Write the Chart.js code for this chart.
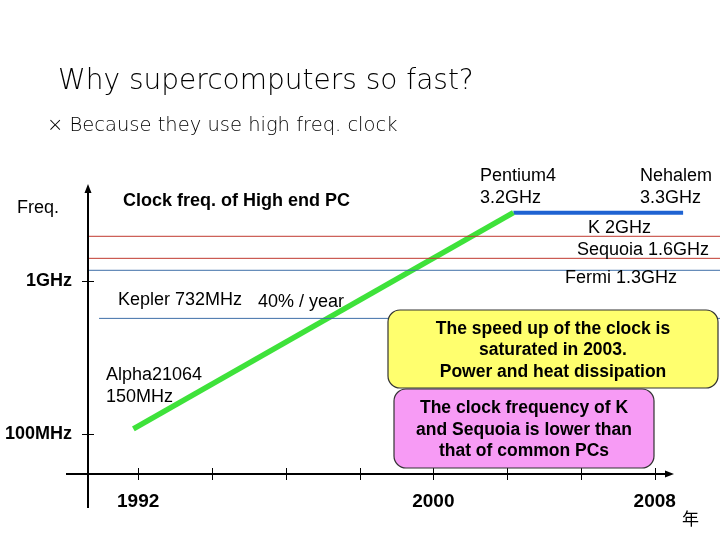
<!DOCTYPE html>
<html>
<head>
<meta charset="utf-8">
<script src="https://cdn.jsdelivr.net/npm/chart.js@4"></script>
<style>
  html, body { margin: 0; padding: 0; background: #fff; }
  #wrap { width: 720px; height: 540px; }
</style>
</head>
<body>
<div id="wrap"><canvas id="chart" width="720" height="540"></canvas></div>
<script>
// data (x = year, y = MHz on a log axis)
const xTickValues = [1992, 1994, 1996, 1998, 2000, 2002, 2004, 2006];
const xTickLabels = ["1992", "", "", "", "2000", "", "", "2008"];
const yTickValues = [100, 1000];
const yTickLabels = ["100MHz", "1GHz"];

const trendYears = [1991.87, 2002.17];
const trendMHz = [108, 2795];
const plateauYears = [2002.17, 2006.77];
const plateauMHz = [2795, 2795];

const refNames = ["K", "Sequoia", "Fermi", "Kepler"];
const refMHz = [1960, 1407, 1175, 570];
const refFrom = [1990.64, 1990.64, 1990.64, 1990.94];
const refTo = [2007.77, 2007.77, 2007.77, 2007.77];
const refColors = ["#c0392f", "#c0392f", "#3f6fa8", "#3f6fa8"];

const X_MIN = 1990.64, X_MAX = 2007.77;
const Y_MIN = 54.8, Y_MAX = 4242;

function pts(xs, ys) {
  return xs.map((x, i) => ({ x, y: ys[i] }));
}

const datasets = refNames.map((name, i) => ({
  label: name,
  data: pts([refFrom[i], refTo[i]], [refMHz[i], refMHz[i]]),
  borderColor: refColors[i],
  borderWidth: 1,
  pointRadius: 0
}));
datasets.push({
  label: "trend",
  data: pts(trendYears, trendMHz),
  borderColor: "#3ee23a",
  borderWidth: 5.5,
  pointRadius: 0
});
datasets.push({
  label: "plateau",
  data: pts(plateauYears, plateauMHz),
  borderColor: "#1f63d2",
  borderWidth: 4,
  pointRadius: 0
});

function text(ctx, s, x, y, font, align) {
  ctx.font = font;
  ctx.textAlign = align || "left";
  ctx.textBaseline = "middle";
  ctx.fillStyle = "#000";
  ctx.fillText(s, x, y);
}

function roundBox(ctx, x0, y0, x1, y1, r, fill) {
  ctx.beginPath();
  ctx.roundRect(x0, y0, x1 - x0, y1 - y0, r);
  ctx.fillStyle = fill;
  ctx.fill();
  ctx.lineWidth = 1.2;
  ctx.strokeStyle = "#333";
  ctx.stroke();
}

const slidePlugin = {
  id: "slide",
  afterDatasetsDraw(chart) {
    const ctx = chart.ctx;
    const xs = chart.scales.x, ys = chart.scales.y;
    const y0 = ys.getPixelForValue(Y_MIN);
    const x0 = xs.getPixelForValue(X_MIN);
    ctx.save();
    ctx.strokeStyle = "#000";
    ctx.fillStyle = "#000";

    // axes with arrows
    ctx.lineWidth = 2;
    ctx.beginPath();
    ctx.moveTo(x0, 508); ctx.lineTo(x0, 191);
    ctx.moveTo(66, y0); ctx.lineTo(667, y0);
    ctx.stroke();
    ctx.beginPath();
    ctx.moveTo(x0, 184); ctx.lineTo(x0 - 3.5, 193); ctx.lineTo(x0 + 3.5, 193); ctx.closePath();
    ctx.moveTo(674, y0); ctx.lineTo(665, y0 - 3.5); ctx.lineTo(665, y0 + 3.5); ctx.closePath();
    ctx.fill();

    // tick marks crossing the axes
    ctx.lineWidth = 1;
    ctx.beginPath();
    xTickValues.forEach(v => {
      const px = Math.round(xs.getPixelForValue(v)) + 0.5;
      ctx.moveTo(px, y0 - 6); ctx.lineTo(px, y0 + 6);
    });
    yTickValues.forEach(v => {
      const py = Math.round(ys.getPixelForValue(v)) + 0.5;
      ctx.moveTo(x0 - 6, py); ctx.lineTo(x0 + 6, py);
    });
    ctx.stroke();

    // call-out boxes
    roundBox(ctx, 388, 310, 718, 388, 12, "#ffff6e");
    text(ctx, "The speed up of the clock is", 553, 329, "bold 17.5px 'Liberation Sans'", "center");
    text(ctx, "saturated in 2003.", 553, 350, "bold 17.5px 'Liberation Sans'", "center");
    text(ctx, "Power and heat dissipation", 553, 372, "bold 17.5px 'Liberation Sans'", "center");

    roundBox(ctx, 394, 389, 654, 468, 12, "#f79bf5");
    text(ctx, "The clock frequency of K", 524, 408, "bold 17.5px 'Liberation Sans'", "center");
    text(ctx, "and Sequoia is lower than", 524, 430, "bold 17.5px 'Liberation Sans'", "center");
    text(ctx, "that of common PCs", 524, 451, "bold 17.5px 'Liberation Sans'", "center");

    // slide title
    ctx.font = "200 28px 'DejaVu Sans'";
    ctx.textAlign = "left";
    ctx.textBaseline = "alphabetic";
    ctx.fillText("Why supercomputers so fast?", 58, 89);
    ctx.font = "200 19.5px 'DejaVu Sans'";
    ctx.fillText("× Because they use high freq. clock", 47, 131);

    // labels
    const reg = "18px 'Liberation Sans'";
    text(ctx, "Freq.", 17, 208, reg);
    text(ctx, "Clock freq. of High end PC", 123, 201, "bold 18px 'Liberation Sans'");
    text(ctx, "Pentium4", 480, 176, reg);
    text(ctx, "3.2GHz", 480, 198, reg);
    text(ctx, "Nehalem", 640, 176, reg);
    text(ctx, "3.3GHz", 640, 198, reg);
    text(ctx, "K 2GHz", 588, 228, reg);
    text(ctx, "Sequoia 1.6GHz", 577, 250, reg);
    text(ctx, "Fermi 1.3GHz", 565, 278, reg);
    text(ctx, "Kepler 732MHz", 118, 300, reg);
    text(ctx, "40% / year", 258, 302, reg);
    text(ctx, "Alpha21064", 106, 375, reg);
    text(ctx, "150MHz", 106, 397, reg);
    text(ctx, "年", 682, 519, "17px 'Noto Sans CJK JP'");
    ctx.restore();
  }
};

new Chart(document.getElementById("chart"), {
  type: "line",
  data: { datasets },
  plugins: [slidePlugin],
  options: {
    responsive: false,
    animation: false,
    layout: { padding: { top: 185, right: 0, bottom: 0, left: 0 } },
    plugins: { legend: { display: false }, tooltip: { enabled: false } },
    scales: {
      x: {
        type: "linear",
        min: X_MIN,
        max: X_MAX,
        afterBuildTicks: s => { s.ticks = xTickValues.map(v => ({ value: v })); },
        afterFit: s => { s.height = 66; },
        grid: { display: false, drawTicks: false },
        border: { display: false },
        ticks: {
          padding: 16,
          maxRotation: 0,
          autoSkip: false,
          color: "#000",
          font: { family: "'Liberation Sans'", size: 19, weight: "bold" },
          callback: (v, i) => xTickLabels[i]
        }
      },
      y: {
        type: "logarithmic",
        min: Y_MIN,
        max: Y_MAX,
        afterBuildTicks: s => { s.ticks = yTickValues.map(v => ({ value: v })); },
        afterFit: s => { s.width = 88; },
        grid: { display: false, drawTicks: false },
        border: { display: false },
        ticks: {
          padding: 16,
          autoSkip: false,
          color: "#000",
          font: { family: "'Liberation Sans'", size: 18, weight: "bold" },
          callback: (v, i) => yTickLabels[i]
        }
      }
    }
  }
});
</script>
</body>
</html>
